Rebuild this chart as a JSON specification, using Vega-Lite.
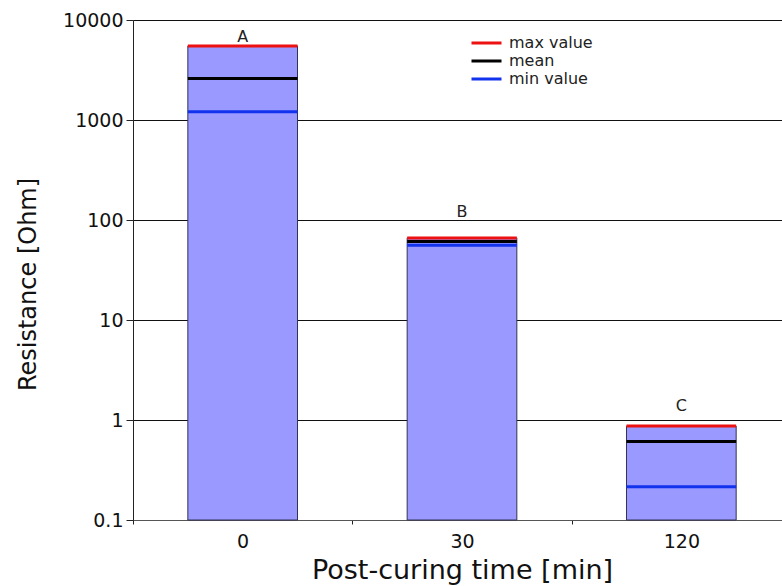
{
  "$schema": "https://vega.github.io/schema/vega-lite/v6.json",
  "autosize": "none",
  "width": 649,
  "height": 500,
  "padding": {"left": 133, "top": 20, "right": 0, "bottom": 66},
  "background": "white",
  "config": {
    "view": {"stroke": null},
    "font": "DejaVu Sans",
    "axis": {"labelFont": "DejaVu Sans", "titleFont": "DejaVu Sans", "labelColor": "#111", "titleColor": "#111", "titleFontWeight": "normal"}
  },
  "data": {
    "values": [
      {"time": "0", "letter": "A", "max value": 5500, "mean": 2600, "min value": 1210, "letterPos": 7000},
      {"time": "30", "letter": "B", "max value": 66, "mean": 61, "min value": 56, "letterPos": 125},
      {"time": "120", "letter": "C", "max value": 0.87, "mean": 0.61, "min value": 0.215, "letterPos": 1.43}
    ]
  },
  "layer": [
    {
      "mark": {"type": "bar", "fill": "#9999ff", "stroke": "#333355", "strokeWidth": 1},
      "encoding": {
        "x": {
          "field": "time", "type": "nominal", "sort": ["0", "30", "120"], "bandPosition": 0.25,
          "scale": {"paddingInner": 0, "paddingOuter": 0, "range": [0, 658]},
          "axis": {"title": "Post-curing time [min]", "labelAngle": 0, "labelFontSize": 19, "labelPadding": 8, "titleFontSize": 27, "titlePadding": 6, "tickBand": "extent", "tickSize": 4, "tickColor": "#222", "domainColor": "#555", "grid": false}
        },
        "x2": {"field": "time", "bandPosition": 0.75},
        "y": {
          "field": "max value", "type": "quantitative",
          "scale": {"type": "log", "domain": [0.1, 10000], "nice": false},
          "axis": {"title": "Resistance [Ohm]", "values": [0.1, 1, 10, 100, 1000, 10000], "format": "~g", "labelFontSize": 19, "labelPadding": 3, "tickSize": 7, "tickColor": "#222", "domainColor": "#222", "gridColor": "#111", "gridOpacity": 1, "titleFontSize": 24, "titlePadding": 22, "titleY": 264}
        },
        "y2": {"datum": 0.1}
      }
    },
    {
      "transform": [{"fold": ["max value", "mean", "min value"], "as": ["stat", "val"]}],
      "mark": {"type": "rule", "strokeWidth": 3},
      "encoding": {
        "x": {"field": "time", "type": "nominal", "sort": ["0", "30", "120"], "bandPosition": 0.25},
        "x2": {"field": "time", "bandPosition": 0.75},
        "y": {"field": "val", "type": "quantitative"},
        "color": {
          "field": "stat", "type": "nominal",
          "scale": {"domain": ["max value", "mean", "min value"], "range": ["#ee1111", "#000000", "#1133ee"]},
          "legend": {"title": null, "orient": "none", "legendX": 337, "legendY": 14, "symbolType": "stroke", "symbolSize": 900, "symbolStrokeWidth": 3, "labelFontSize": 16, "labelColor": "#222", "rowPadding": 0, "clipHeight": 18, "labelOffset": 6}
        }
      }
    },
    {
      "mark": {"type": "text", "fontSize": 16, "color": "#222", "dy": 2},
      "encoding": {
        "x": {"field": "time", "type": "nominal", "sort": ["0", "30", "120"]},
        "y": {"field": "letterPos", "type": "quantitative"},
        "text": {"field": "letter"}
      }
    }
  ]
}
